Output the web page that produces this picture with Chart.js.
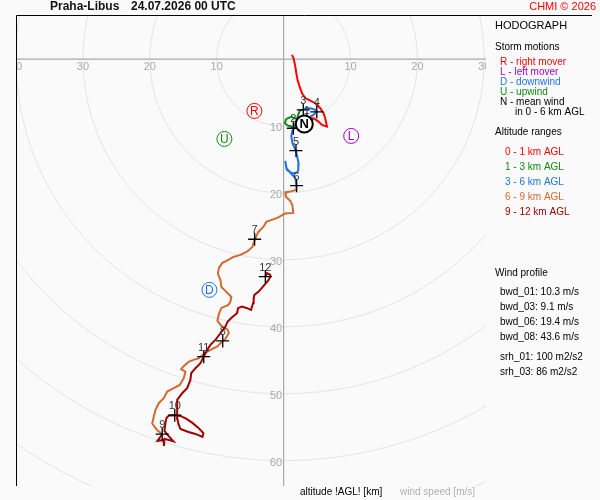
<!DOCTYPE html>
<html>
<head>
<meta charset="utf-8">
<title>Hodograph Praha-Libus</title>
<script src="https://cdn.jsdelivr.net/npm/chart.js@4"></script>
<style>
  html, body { margin: 0; padding: 0; background: #fafafa; }
  #wrap { width: 600px; height: 500px; }
</style>
</head>
<body>
<div id="wrap"><canvas id="hodo" width="600" height="500"></canvas></div>
<script>
// wind (u, v) in m/s along the profile, one array per altitude range
const layer01 = [[1.25,0.64],[1.49,0.15],[1.75,-1.10],[1.90,-2.09],[2.09,-3.09],[2.39,-4.09],[2.75,-5.07],
  [3.24,-5.82],[3.99,-6.18],[4.73,-6.57],[5.48,-7.31],[5.97,-8.06],[6.22,-8.81],[6.48,-10.06],[5.73,-9.81],
  [5.22,-9.31],[4.48,-8.81],[3.84,-8.84],[3.46,-9.06]];
const layer13 = [[3.46,-9.06],[2.64,-9.21],[1.90,-8.91],[1.15,-8.61],[0.40,-8.91],[0.18,-9.51],[0.55,-9.88],
  [1.15,-10.03],[1.45,-10.30],[1.75,-9.66],[2.04,-8.76],[2.27,-8.01],[2.49,-7.57],[2.94,-7.57]];
const layer36 = [[2.94,-7.57],[3.54,-7.27],[4.13,-7.34],[4.73,-7.57],[4.96,-7.87],[4.43,-8.31],[3.84,-8.69],
  [3.09,-9.21],[2.34,-9.66],[1.75,-10.10],[1.30,-10.70],[1.15,-11.45],[1.30,-12.49],[1.82,-13.61],[2.04,-14.58],
  [2.24,-15.52],[2.19,-16.52],[2.04,-16.90],[1.30,-17.04],[0.48,-16.52],[0.25,-15.18],[0.40,-16.22],[1.15,-17.12],
  [1.75,-17.72],[1.90,-18.84]];
const layer69 = [[1.90,-18.84],[1.90,-19.51],[1.00,-19.76],[0.25,-19.88],[0.33,-20.51],[1.00,-21.15],[1.30,-21.75],
  [1.45,-22.94],[0.25,-23.01],[-0.94,-23.69],[-1.99,-24.06],[-2.58,-24.28],[-3.03,-25.03],[-3.78,-25.78],
  [-4.30,-26.87],[-4.67,-28.01],[-5.42,-28.69],[-6.46,-29.21],[-7.51,-29.51],[-8.25,-29.96],[-9.15,-30.40],
  [-9.67,-31.15],[-9.82,-32.04],[-9.45,-32.94],[-9.30,-33.99],[-8.55,-34.73],[-7.81,-35.48],[-7.96,-36.22],
  [-8.25,-36.67],[-9.30,-37.12],[-9.67,-38.01],[-9.90,-39.06],[-9.30,-39.81],[-8.40,-40.33],[-8.18,-40.85],
  [-8.70,-41.75],[-9.10,-42.04],[-9.90,-42.87],[-10.79,-43.31],[-11.69,-43.79],[-12.69,-44.63],[-13.48,-44.88],
  [-14.22,-45.18],[-14.97,-45.85],[-15.31,-46.27],[-14.67,-46.63],[-14.93,-47.61],[-15.52,-48.61],[-16.42,-49.10],
  [-17.40,-49.61],[-17.91,-50.60],[-18.66,-51.34],[-19.15,-52.34],[-19.40,-53.34],[-19.64,-54.33],[-19.40,-54.73],
  [-18.90,-55.33],[-18.15,-55.97]];
const layer912 = [[-18.15,-55.97],[-18.85,-56.97],[-17.96,-56.82],[-17.88,-57.72],[-17.81,-56.67],[-16.46,-57.04],
  [-17.21,-56.22],[-17.81,-55.48],[-17.66,-54.28],[-17.51,-53.54],[-17.13,-53.16],[-16.27,-53.13],[-15.42,-53.24],
  [-14.52,-53.69],[-13.63,-54.28],[-12.73,-55.03],[-11.99,-55.78],[-12.13,-56.37],[-13.18,-55.93],[-14.22,-55.63],
  [-15.42,-55.18],[-15.72,-54.43],[-15.87,-53.69],[-15.91,-52.34],[-15.91,-50.85],[-15.16,-49.85],[-14.42,-49.10],
  [-13.93,-47.87],[-13.82,-46.87],[-13.18,-46.12],[-12.43,-45.37],[-11.94,-44.39],[-11.43,-43.39],[-10.94,-42.64],
  [-10.19,-41.90],[-9.45,-40.90],[-8.70,-39.91],[-8.36,-39.16],[-7.70,-38.51],[-6.96,-37.91],[-6.81,-37.16],
  [-6.21,-36.93],[-5.46,-37.16],[-4.87,-37.42],[-4.57,-36.42],[-4.48,-35.67],[-4.37,-35.18],[-3.73,-34.69],
  [-2.99,-33.84],[-2.24,-32.94],[-1.99,-32.45],[-1.99,-32.19],[-2.48,-31.94],[-2.73,-32.45]];

// height marks (km AGL)
const heightLabels = ['1','2','3','4','5','6','7','8','9','10','11','12'];
const heightU = [3.46, 1.45, 2.94, 4.96, 1.85, 1.94, -4.33, -9.10, -18.15, -16.27, -11.94, -2.73];
const heightV = [-9.06, -10.30, -7.57, -7.87, -13.64, -18.87, -26.87, -42.04, -55.97, -53.13, -44.39, -32.45];

// storm motions
const stormLabels = ['R', 'L', 'D', 'U', 'N'];
const stormU = [-4.37, 10.10, -11.09, -8.85, 3.09];
const stormV = [-7.72, -11.45, -34.43, -11.90, -9.66];

// speed rings and their tick labels
const rings = [10, 20, 30, 40, 50, 60, 70, 80];
const ringTicksU = [-40, -30, -20, -10, 10, 20, 30];
const ringTicksV = [10, 20, 30, 40, 50, 60];

const layerColors = ['#ff0000', '#108a10', '#2271e0', '#d26a30', '#a00000'];
const stormColors = ['#ff0000', '#a800c0', '#2271e0', '#108a10', '#000000'];
const FONT = '"Liberation Sans", Arial, sans-serif';

const toXY = arr => arr.map(p => ({x: p[0], y: p[1]}));

const layers = [layer01, layer13, layer36, layer69, layer912].map((l, i) => ({
    data: toXY(l),
    showLine: true,
    borderColor: layerColors[i],
    borderWidth: 2,
    pointRadius: 0,
    tension: 0,
    order: 10 - i
}));

const crosses = {
    data: heightU.map((u, i) => ({x: u, y: heightV[i]})),
    pointStyle: 'cross',
    pointRadius: 6.5,
    borderColor: '#000',
    borderWidth: 1.3,
    order: 1
};

const storms = {
    data: stormU.map((u, i) => ({x: u, y: stormV[i]})),
    pointStyle: 'circle',
    pointRadius: stormLabels.map(s => s === 'N' ? 8.5 : 7.5),
    backgroundColor: stormLabels.map(s => s === 'N' ? '#ffffff' : '#fafafa'),
    borderColor: stormColors,
    borderWidth: stormLabels.map(s => s === 'N' ? 2 : 1),
    order: 0
};

function text(ctx, s, x, y, font, color, align) {
    ctx.font = font;
    ctx.fillStyle = color;
    ctx.textAlign = align || 'left';
    ctx.textBaseline = 'middle';
    ctx.fillText(s, x, y);
}

// rings, axes and ring labels under the data
const hodoBack = {
    id: 'hodoBack',
    beforeDatasetsDraw(chart) {
        const {ctx, chartArea: a, scales: {x, y}} = chart;
        const cx = x.getPixelForValue(0), cy = y.getPixelForValue(0);
        ctx.save();
        ctx.beginPath();
        ctx.rect(a.left, a.top, a.right - a.left, a.bottom - a.top);
        ctx.clip();
        ctx.strokeStyle = '#e3e3e3';
        ctx.lineWidth = 1;
        rings.forEach(r => {
            ctx.beginPath();
            ctx.arc(cx, cy, x.getPixelForValue(r) - cx, 0, 2 * Math.PI);
            ctx.stroke();
        });
        ctx.strokeStyle = '#a8a8a8';
        ctx.lineWidth = 1.2;
        ctx.beginPath();
        ctx.moveTo(cx, a.top); ctx.lineTo(cx, a.bottom);
        ctx.moveTo(a.left, cy); ctx.lineTo(a.right, cy);
        ctx.stroke();
        ringTicksU.forEach(u => text(ctx, String(Math.abs(u)), x.getPixelForValue(u), cy + 8, '11px ' + FONT, '#a8a8a8', 'center'));
        ringTicksV.forEach(v => text(ctx, String(v), cx - 1.5, y.getPixelForValue(-v) + 1.5, '11px ' + FONT, '#a8a8a8', 'right'));
        ctx.restore();
    },
    afterDatasetsDraw(chart) {
        const {ctx, scales: {x, y}} = chart;
        ctx.save();
        heightLabels.forEach((s, i) => {
            text(ctx, s, x.getPixelForValue(heightU[i]), y.getPixelForValue(heightV[i]) - 9, '11px ' + FONT, '#333', 'center');
        });
        stormLabels.forEach((s, i) => {
            const f = s === 'N' ? 'bold 13px ' : '12px ';
            text(ctx, s, x.getPixelForValue(stormU[i]), y.getPixelForValue(stormV[i]) + 0.5, f + FONT, stormColors[i], 'center');
        });
        ctx.restore();
    },
    afterDraw(chart) {
        const {ctx, chartArea: a} = chart;
        ctx.save();
        ctx.strokeStyle = '#000';
        ctx.lineWidth = 1;
        ctx.beginPath();
        ctx.moveTo(a.left + 0.5, a.bottom); ctx.lineTo(a.left + 0.5, a.top + 0.5); ctx.lineTo(592, a.top + 0.5);
        ctx.stroke();

        text(ctx, 'Praha-Libus', 50, 7, 'bold 12px ' + FONT, '#111');
        text(ctx, '24.07.2026 00 UTC', 131, 7, 'bold 12px ' + FONT, '#111');
        text(ctx, 'CHMI \u00a9 2026', 596, 7, '11px ' + FONT, '#ff0000', 'right');

        text(ctx, 'HODOGRAPH', 495, 26, '11px ' + FONT, '#000');
        text(ctx, 'Storm motions', 495, 47, '10px ' + FONT, '#000');
        text(ctx, 'R - right mover', 500, 62, '10px ' + FONT, stormColors[0]);
        text(ctx, 'L - left mover', 500, 72, '10px ' + FONT, stormColors[1]);
        text(ctx, 'D - downwind', 500, 82, '10px ' + FONT, stormColors[2]);
        text(ctx, 'U - upwind', 500, 92, '10px ' + FONT, stormColors[3]);
        text(ctx, 'N - mean wind', 500, 102, '10px ' + FONT, '#000');
        text(ctx, 'in 0 - 6 km AGL', 515, 112, '10px ' + FONT, '#000');

        text(ctx, 'Altitude ranges', 495, 132, '10px ' + FONT, '#000');
        ['0 - 1 km AGL', '1 - 3 km AGL', '3 - 6 km AGL', '6 - 9 km AGL', '9 - 12 km AGL'].forEach((s, i) => {
            text(ctx, s, 505, 152 + i * 15, '10px ' + FONT, layerColors[i]);
        });

        text(ctx, 'Wind profile', 495, 273, '10px ' + FONT, '#000');
        text(ctx, 'bwd_01: 10.3 m/s', 500, 292, '10px ' + FONT, '#000');
        text(ctx, 'bwd_03: 9.1 m/s', 500, 307, '10px ' + FONT, '#000');
        text(ctx, 'bwd_06: 19.4 m/s', 500, 322, '10px ' + FONT, '#000');
        text(ctx, 'bwd_08: 43.6 m/s', 500, 337, '10px ' + FONT, '#000');
        text(ctx, 'srh_01: 100 m2/s2', 500, 357, '10px ' + FONT, '#000');
        text(ctx, 'srh_03: 86 m2/s2', 500, 372, '10px ' + FONT, '#000');

        text(ctx, 'altitude !AGL! [km]', 300, 492, '10px ' + FONT, '#000');
        text(ctx, 'wind speed [m/s]', 400, 492, '10px ' + FONT, '#b0b0b0');
        ctx.restore();
    }
};

new Chart(document.getElementById('hodo'), {
    type: 'scatter',
    data: { datasets: [...layers, crosses, storms] },
    options: {
        responsive: false,
        animation: false,
        events: [],
        layout: { padding: { left: 16, top: 15, right: 114, bottom: 14 } },
        scales: {
            x: { type: 'linear', min: -40, max: 30.25, display: false },
            y: { type: 'linear', min: -63.7, max: 6.6, display: false }
        },
        plugins: { legend: { display: false }, tooltip: { enabled: false } }
    },
    plugins: [hodoBack]
});
</script>
</body>
</html>
